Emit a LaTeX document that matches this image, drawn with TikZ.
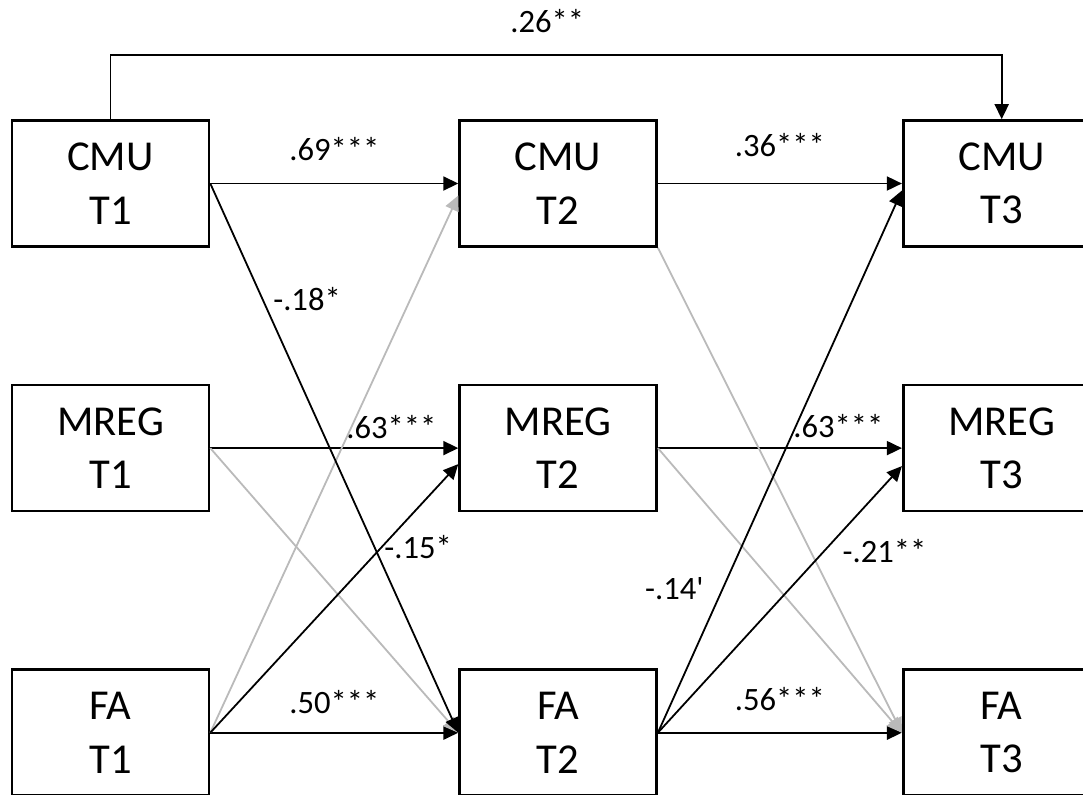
\documentclass[tikz,border=0pt]{standalone}
\usepackage{fontspec}
\setmainfont{Carlito}
\usetikzlibrary{arrows.meta,positioning}

\begin{document}
\begin{tikzpicture}[
  x=0.5pt,y=-0.5pt,
  every node/.style={align=center},
  var/.style={rectangle,draw,line width=1.3pt,minimum width=98.5pt,minimum height=63pt,inner sep=0pt,font=\fontsize{21.3}{26.7}\selectfont},
  arrow/.style={-{Triangle[length=7.5pt,width=7pt]},line width=0.9pt},
  faded/.style={arrow,draw=black!27},
  coef/.style={font=\fontsize{16.3}{19.5}\selectfont,inner sep=0pt}
]
\useasboundingbox (0,0) rectangle (1083,794);

\node[var] (cmu1) at (110.5,183.5) {CMU\\T1};
\node[var,right=124pt of cmu1] (cmu2) {CMU\\T2};
\node[var,right=122pt of cmu2] (cmu3) {CMU\\T3};
\node[var,below=68pt of cmu1] (mreg1) {MREG\\T1};
\node[var,below=68pt of cmu2] (mreg2) {MREG\\T2};
\node[var,below=68pt of cmu3] (mreg3) {MREG\\T3};
\node[var,below=78pt of mreg1] (fa1) {FA\\T1};
\node[var,below=78pt of mreg2] (fa2) {FA\\T2};
\node[var,below=78pt of mreg3] (fa3) {FA\\T3};

% stability paths
\draw[arrow] (cmu1.north) -- ++(0,32pt) -| node[coef,pos=0.245,above=11pt] {.26**} (cmu3.north);
\draw[arrow] (cmu1) -- node[coef,above=11pt] {.69***} (cmu2);
\draw[arrow] (cmu2) -- node[coef,above=13pt] {.36***} (cmu3);
\draw[arrow] (mreg1) -- node[coef,pos=0.73,above=4pt] {.63***} (mreg2);
\draw[arrow] (mreg2) -- node[coef,pos=0.74,above=4.5pt] {.63***} (mreg3);
\draw[arrow] (fa1) -- node[coef,above=9pt] {.50***} (fa2);
\draw[arrow] (fa2) -- node[coef,above=10.5pt] {.56***} (fa3);

% cross-lagged paths
\draw[faded] (fa1.east) -- ([yshift=-6pt]cmu2.west);
\draw[faded] (mreg1.east) -- (fa2.west);
\draw[faded] (cmu2.south east) -- (fa3.west);
\draw[faded] (mreg2.east) -- (fa3.west);
\draw[arrow] (cmu1.east) -- node[coef,pos=0.21,right=5pt] {-.18*} (fa2.west);
\draw[arrow] (fa1.east) -- node[coef,pos=0.69,right=1pt] {-.15*} ([yshift=-8pt]mreg2.west);
\draw[arrow] (fa2.east) -- node[coef,pos=0.265,left=9pt] {-.14\textquotesingle} ([yshift=-3.5pt]cmu3.west);
\draw[arrow] (fa2.east) -- node[coef,pos=0.68,right=9pt] {-.21**} ([yshift=-9pt]mreg3.west);
\end{tikzpicture}
\end{document}
